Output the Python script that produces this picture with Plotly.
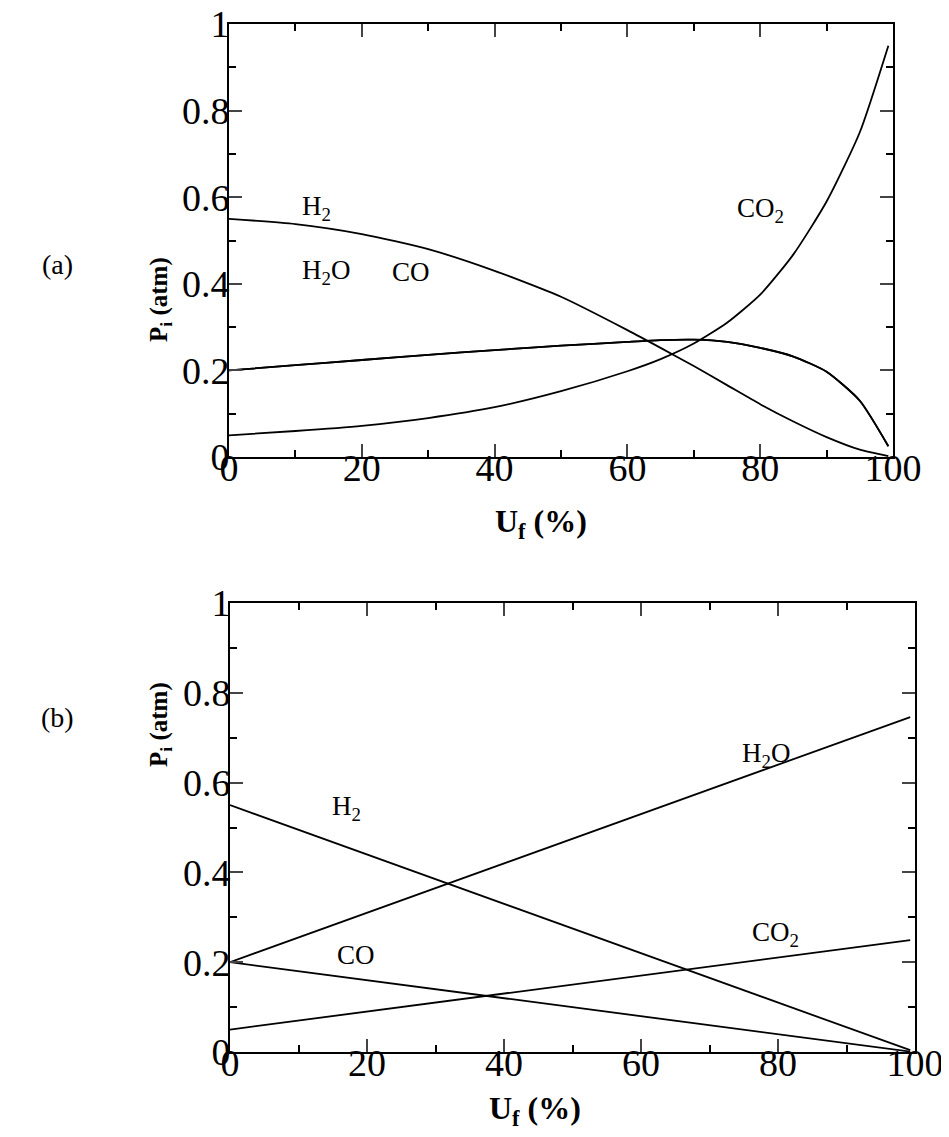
import plotly.graph_objects as go

# ---- data: panel (a) ----
uf_a = [0, 10, 20, 30, 40, 50, 60, 65, 70, 75, 80, 85, 90, 95, 99.3]
h2_a = [0.55, 0.538, 0.515, 0.48, 0.43, 0.37, 0.293, 0.252, 0.21, 0.166, 0.122, 0.082, 0.046, 0.017, 0.002]
h2o_a = [0.2, 0.212, 0.224, 0.236, 0.247, 0.257, 0.266, 0.27, 0.271, 0.266, 0.252, 0.232, 0.197, 0.13, 0.025]
co_a = h2o_a
co2_a = [0.05, 0.06, 0.072, 0.09, 0.115, 0.152, 0.198, 0.226, 0.262, 0.31, 0.375, 0.468, 0.59, 0.75, 0.95]

# ---- data: panel (b) ----
uf_b = [0, 99.3]
h2_b = [0.55, 0.004]
h2o_b = [0.2, 0.746]
co_b = [0.2, 0.001]
co2_b = [0.05, 0.249]

x_ticks = [0, 20, 40, 60, 80, 100]
y_ticks = [0, 0.2, 0.4, 0.6, 0.8, 1]
y_ticklabels = ["0", "0.2", "0.4", "0.6", "0.8", "1"]

W, H = 949, 1137
OFF = 8  # page body margin
FONT = "Liberation Serif"

fig = go.Figure()
line = dict(color="black", width=1.8)
for y in (h2_a, h2o_a, co_a, co2_a):
    fig.add_trace(go.Scatter(x=uf_a, y=y, mode="lines", line=dict(line, shape="spline", smoothing=0.6),
                             xaxis="x", yaxis="y", showlegend=False))
for y in (h2_b, h2o_b, co_b, co2_b):
    fig.add_trace(go.Scatter(x=uf_b, y=y, mode="lines", line=line,
                             xaxis="x2", yaxis="y2", showlegend=False))

def px_x(p):
    return (p - OFF) / W

def px_y(p):
    return 1 - (p - OFF) / H

common_x = dict(range=[0, 100], tickvals=x_ticks, ticks="inside", ticklen=13, tickwidth=2,
                showline=True, linewidth=2, linecolor="black", mirror="ticks", showgrid=False,
                zeroline=False, tickfont=dict(family=FONT, size=38, color="black"),
                minor=dict(dtick=10, ticks="inside", ticklen=7, tickwidth=2, tickcolor="black", showgrid=False),
                ticklabelstandoff=-24, automargin=False, ticklabeloverflow="allow")
common_y = dict(range=[0, 1], tickvals=y_ticks, ticktext=y_ticklabels, ticks="inside", ticklen=13, tickwidth=2,
                showline=True, linewidth=2, linecolor="black", mirror="ticks", showgrid=False,
                zeroline=False, tickfont=dict(family=FONT, size=38, color="black"),
                minor=dict(dtick=0.1, ticks="inside", ticklen=7, tickwidth=2, tickcolor="black", showgrid=False),
                ticklabelstandoff=-10, automargin=False, ticklabeloverflow="allow")

fig.update_layout(
    width=W, height=H, margin=dict(l=0, r=0, t=0, b=0, pad=0, autoexpand=False),
    paper_bgcolor="white", plot_bgcolor="white", showlegend=False,
    xaxis=dict(common_x, domain=[px_x(229), px_x(893)], anchor="y"),
    yaxis=dict(common_y, domain=[px_y(457), px_y(24)], anchor="x"),
    xaxis2=dict(common_x, domain=[px_x(230), px_x(915)], anchor="y2"),
    yaxis2=dict(common_y, domain=[px_y(1052), px_y(603)], anchor="x2"),
)

lab_font = dict(family=FONT, size=27, color="black")
labels_a = [("H<sub>2</sub>", 10.7, 0.575), ("H<sub>2</sub>O", 10.7, 0.427),
            ("CO", 24.2, 0.427), ("CO<sub>2</sub>", 76.2, 0.57)]
labels_b = [("H<sub>2</sub>O", 74.5, 0.661), ("H<sub>2</sub>", 14.6, 0.543),
            ("CO<sub>2</sub>", 75.9, 0.263), ("CO", 15.3, 0.216)]
for t, x, y in labels_a:
    fig.add_annotation(text=t, x=x, y=y, xref="x", yref="y", xanchor="left", yanchor="middle",
                       showarrow=False, font=lab_font)
for t, x, y in labels_b:
    fig.add_annotation(text=t, x=x, y=y, xref="x2", yref="y2", xanchor="left", yanchor="middle",
                       showarrow=False, font=lab_font)

# axis titles
for (cx, cy) in [(541, 523), (535, 1110)]:
    fig.add_annotation(text="<b>U<sub>f</sub> (%)</b>", x=px_x(cx), y=px_y(cy), xref="paper", yref="paper",
                       xanchor="center", yanchor="middle", showarrow=False,
                       font=dict(family=FONT, size=32, color="black"))
for (cx, cy) in [(160, 300), (160, 725)]:
    fig.add_annotation(text="<b>P<sub>i</sub> (atm)</b>", x=px_x(cx), y=px_y(cy), xref="paper", yref="paper",
                       xanchor="center", yanchor="middle", showarrow=False,
                       font=dict(family=FONT, size=25, color="black"), textangle=-90)
# panel tags
for t, (cx, cy) in [("(a)", (57, 265)), ("(b)", (57, 717))]:
    fig.add_annotation(text=t, x=px_x(cx), y=px_y(cy), xref="paper", yref="paper",
                       xanchor="center", yanchor="middle", showarrow=False,
                       font=dict(family=FONT, size=28, color="black"))

fig.write_html("out.html")
